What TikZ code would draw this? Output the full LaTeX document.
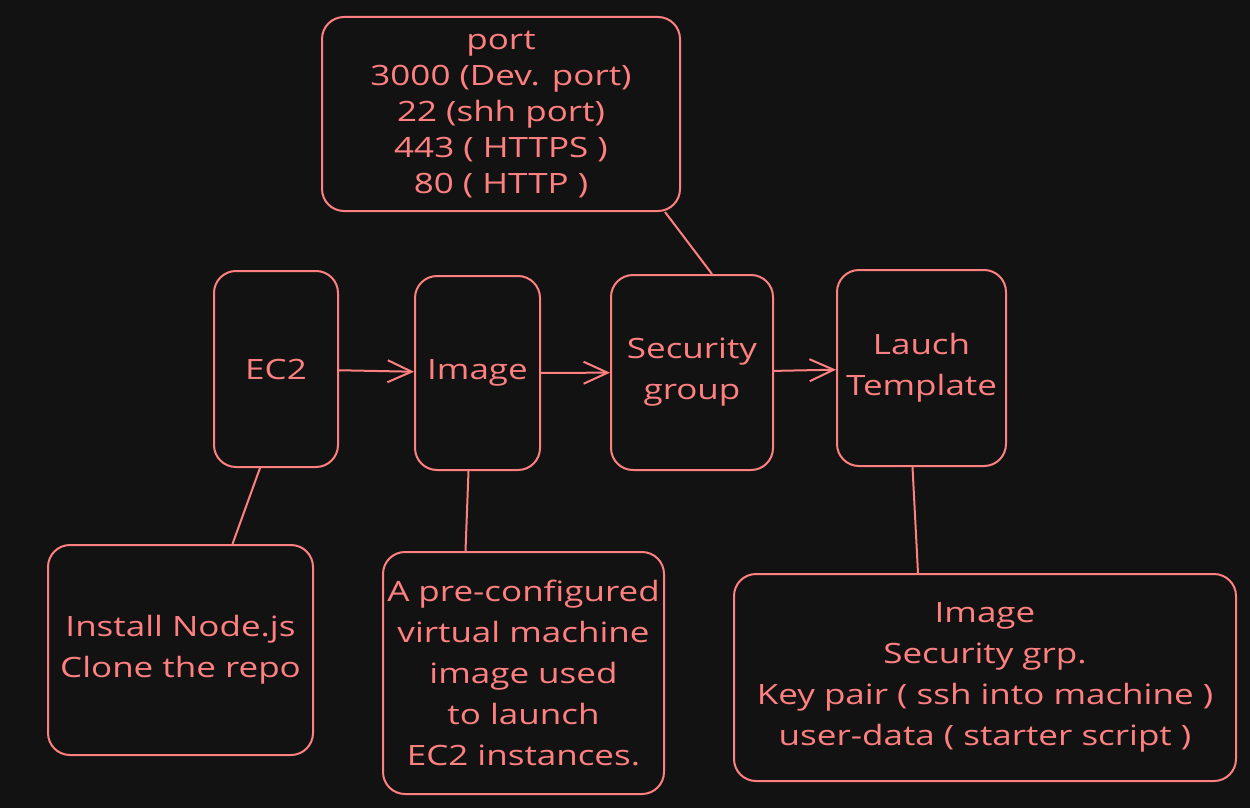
\documentclass[tikz,border=0pt]{standalone}
\usepackage{fontspec}
\setmainfont[FakeStretch = 1.25]{Open Sans}
\usetikzlibrary{arrows.meta}
\definecolor{salmon}{HTML}{FF8080}
\definecolor{bgdark}{HTML}{121212}

\begin{document}
\begin{tikzpicture}[x = 1pt, y = -1pt]
	\tikzstyle{BoxStyle}=[shape = rectangle, rounded corners = 22pt, draw = salmon, line width = 2pt, text = salmon, align = center, inner sep = 0pt, font = \fontsize{28}{41}\selectfont]
	\tikzstyle{LinkStyle}=[draw = salmon, line width = 2pt]
	\tikzstyle{ArrowStyle}=[LinkStyle, -{Straight Barb[length = 24pt, width = 22pt]}]
	\fill[bgdark] (0,0) rectangle (1250,808);
	\useasboundingbox (0,0) rectangle (1250,808);
	\node[BoxStyle, minimum width = 358pt, minimum height = 194pt, font = \fontsize{28}{36}\selectfont] (ports) at (501,114) {port\\3000 (Dev. port)\\22 (shh port)\\443 ( HTTPS )\\80 ( HTTP )};
	\node[BoxStyle, minimum width = 124pt, minimum height = 196pt] (ec2) at (276,369) {EC2};
	\node[BoxStyle, minimum width = 125pt, minimum height = 194pt] (img) at (477.5,373) {Image};
	\node[BoxStyle, minimum width = 162pt, minimum height = 195pt] (secgrp) at (692,372.5) {Security\\group};
	\node[BoxStyle, minimum width = 169pt, minimum height = 196pt] (launch) at (921.5,368) {Lauch\\Template};
	\node[BoxStyle, minimum width = 265pt, minimum height = 210pt] (install) at (180.5,650) {Install Node.js\\Clone the repo};
	\node[BoxStyle, minimum width = 281pt, minimum height = 242pt] (preconf) at (523.5,673) {A pre-configured\\virtual machine\\image used\\to launch\\EC2 instances.};
	\node[BoxStyle, minimum width = 502pt, minimum height = 207pt] (details) at (985,677.5) {Image\\Security grp.\\Key pair ( ssh into machine )\\user-data ( starter script )};
	\draw[ArrowStyle] (ec2) -- (img);
	\draw[ArrowStyle] (img) -- (secgrp);
	\draw[ArrowStyle] (secgrp) -- (launch);
	\draw[LinkStyle] ([xshift = 164pt]ports.south) -- ([xshift = 20pt]secgrp.north);
	\draw[LinkStyle] ([xshift = -16pt]ec2.south) -- ([xshift = 52pt]install.north);
	\draw[LinkStyle] ([xshift = -9pt]img.south) -- ([xshift = -58pt]preconf.north);
	\draw[LinkStyle] ([xshift = -9pt]launch.south) -- ([xshift = -67pt]details.north);
\end{tikzpicture}
\end{document}
